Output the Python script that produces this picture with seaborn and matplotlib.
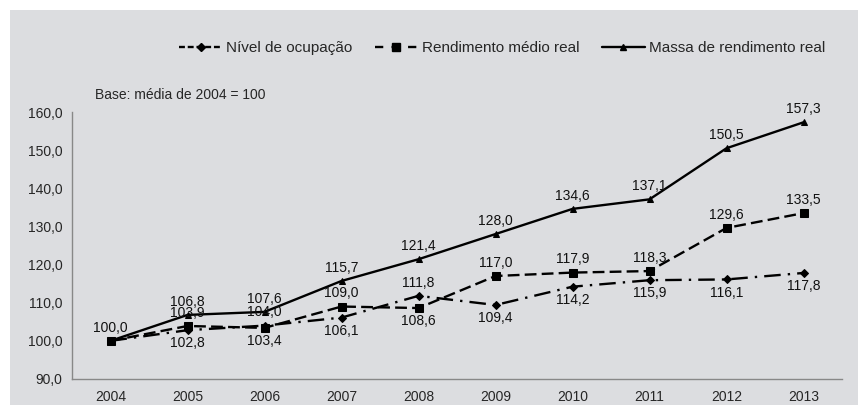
import matplotlib
matplotlib.use("Agg")
import matplotlib.pyplot as plt
import seaborn as sns
import pandas as pd
from matplotlib.lines import Line2D
from matplotlib.patches import Rectangle

# dados (base: media de 2004 = 100)
anos = ["2004", "2005", "2006", "2007", "2008", "2009", "2010", "2011", "2012", "2013"]
nivel_ocupacao = [100.0, 102.8, 104.0, 106.1, 111.8, 109.4, 114.2, 115.9, 116.1, 117.8]
rendimento_medio = [100.0, 103.9, 103.4, 109.0, 108.6, 117.0, 117.9, 118.3, 129.6, 133.5]
massa_rendimento = [100.0, 106.8, 107.6, 115.7, 121.4, 128.0, 134.6, 137.1, 150.5, 157.3]

# posicao dos rotulos: 1 = acima, -1 = abaixo, 0 = sem rotulo
pos_nivel = [0, -1, 1, -1, 1, -1, -1, -1, -1, -1]
pos_rend = [0, 1, -1, 1, -1, 1, 1, 1, 1, 1]
pos_massa = [1, 1, 1, 1, 1, 1, 1, 1, 1, 1]

sns.set_style("white")
plt.rcParams["font.family"] = ["Liberation Sans", "DejaVu Sans"]

cinza = "#dcdde0"
fig = plt.figure(figsize=(8.58, 4.05), dpi=100)
fig.patch.set_facecolor("white")
fig.patches.append(Rectangle((10 / 858, 0), 1, 395 / 405, transform=fig.transFigure,
                             facecolor=cinza, edgecolor="none", zorder=-10))
ax = fig.add_axes([72 / 858, 26 / 405, 770 / 858, 267 / 405])
ax.set_facecolor("none")

x = list(range(len(anos)))
series = [
    ("Nível de ocupação", nivel_ocupacao, pos_nivel, "D", 4, (0, (7, 3, 1, 3))),
    ("Rendimento médio real", rendimento_medio, pos_rend, "s", 6, (0, (5, 2.2))),
    ("Massa de rendimento real", massa_rendimento, pos_massa, "^", 5, "-"),
]

handles = []
for nome, valores, posicoes, marcador, tam, estilo in series:
    df = pd.DataFrame({"x": x, "y": valores})
    sns.lineplot(data=df, x="x", y="y", ax=ax, color="black", linewidth=1.7,
                 linestyle=estilo, marker=marcador, markersize=tam,
                 markeredgecolor="black", markerfacecolor="black")
    for xi, yi, p in zip(x, valores, posicoes):
        if p == 0:
            continue
        ax.annotate(f"{yi:.1f}".replace(".", ","), (xi, yi),
                    xytext=(0, 9.5 * p), textcoords="offset points",
                    ha="center", va="center", fontsize=10, color="#111111")
    if estilo == "-":
        estilo_leg = "-"
    elif marcador == "D":
        estilo_leg = (0, (2.5, 1.2))
    else:
        estilo_leg = (0, (3.5, 3.5))
    handles.append(Line2D([], [], color="black", linewidth=1.7, linestyle=estilo_leg,
                          marker=marcador, markersize=tam))

ax.set_xlim(-0.5, 9.5)
ax.set_ylim(90, 160)
ax.set_yticks(range(90, 161, 10))
ax.set_yticklabels([f"{v:.1f}".replace(".", ",") for v in range(90, 161, 10)])
ax.set_xticks(x)
ax.set_xticklabels(anos)
ax.set_xticks([i - 0.5 for i in range(len(anos) + 1)], minor=True)
ax.tick_params(axis="x", which="major", length=0, pad=8, labelsize=10)
ax.tick_params(axis="x", which="minor", length=4, color="#888888", direction="out")
ax.tick_params(axis="y", length=4, color="#888888", direction="out", labelsize=10, pad=3)
ax.set_xlabel("")
ax.set_ylabel("")
for lado in ["top", "right"]:
    ax.spines[lado].set_visible(False)
for lado in ["left", "bottom"]:
    ax.spines[lado].set_color("#888888")
    ax.spines[lado].set_linewidth(1)

fig.text(95 / 858, 1 - 95 / 405, "Base: média de 2004 = 100", fontsize=10,
         va="center", ha="left")

fig.legend(handles, [s[0] for s in series], loc="center", ncol=3,
           bbox_to_anchor=(502 / 858, 1 - 48 / 405), frameon=False,
           fontsize=11, handlelength=2.8, columnspacing=1.5, handletextpad=0.25)

fig.savefig("out.png", dpi=100, facecolor=fig.get_facecolor())
